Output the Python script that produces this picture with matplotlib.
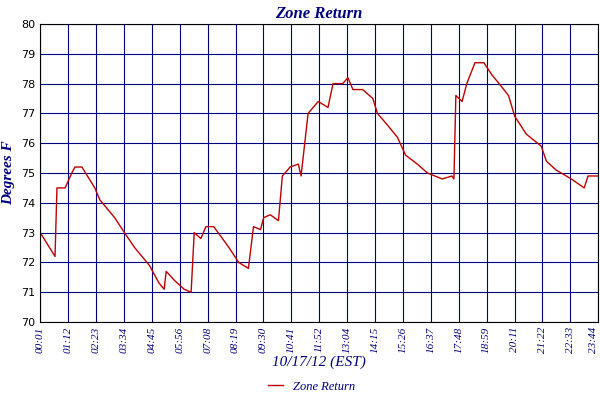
import matplotlib
matplotlib.use("Agg")
import matplotlib.pyplot as plt

minutes = [1,39,44,65,82,90,108,141,154,192,217,243,281,306,319,324,345,370,388,396,413,426,446,485,510,535,548,566,574,591,612,622,642,663,670,688,714,739,752,777,790,803,828,854,866,892,917,938,968,994,1032,1057,1062,1067,1083,1095,1116,1139,1159,1184,1202,1218,1248,1286,1299,1324,1363,1396,1406,1432]
temps = [73.0,72.2,74.5,74.5,75.0,75.2,75.2,74.5,74.1,73.5,73.0,72.5,71.9,71.3,71.1,71.7,71.4,71.1,71.0,73.0,72.8,73.2,73.2,72.5,72.0,71.8,73.2,73.1,73.5,73.6,73.4,74.9,75.2,75.3,74.9,77.0,77.4,77.2,78.0,78.0,78.2,77.8,77.8,77.5,77.0,76.6,76.2,75.6,75.3,75.0,74.8,74.9,74.8,77.6,77.4,78.0,78.7,78.7,78.3,77.9,77.6,76.9,76.3,75.9,75.4,75.1,74.8,74.5,74.9,74.9]
tick_labels = ["00:01","01:12","02:23","03:34","04:45","05:56","07:08","08:19","09:30","10:41","11:52","13:04","14:15","15:26","16:37","17:48","18:59","20:11","21:22","22:33","23:44"]

navy = "#000080"
plt.rcParams['font.family'] = ['Liberation Serif', 'DejaVu Serif']
fig = plt.figure(figsize=(6, 4), dpi=100)
ax = fig.add_axes([0.067, 0.195, 0.93, 0.745])
ax.plot(minutes, temps, color="#c00000", lw=1.0, label="Zone Return")
ax.set_xlim(1, 1432)
ax.set_ylim(70, 80)
step = (1432 - 1) / 20.0
ticks = [1 + i * step for i in range(21)]
ax.set_xticks(ticks)
ax.set_xticklabels(tick_labels, rotation=90, fontsize=8, color=navy, style="italic")
ax.get_xticklabels()[-1].set_horizontalalignment("right")
ax.set_yticks(range(70, 81))
ax.tick_params(axis='y', labelsize=8, length=0, colors='black')
ax.tick_params(axis='x', length=0)
for lab in ax.get_yticklabels():
    lab.set_family(['DejaVu Sans'])
ax.grid(True, color=navy, lw=0.8)
for s in ax.spines.values():
    s.set_color('black')
ax.set_title("Zone Return", fontsize=12, fontweight="bold", style="italic", color=navy, pad=4)
ax.set_ylabel("Degrees F", fontsize=11, fontweight="bold", style="italic", color=navy, labelpad=4)
ax.set_xlabel("10/17/12 (EST)", fontsize=11, style="italic", color=navy, labelpad=2)
leg = fig.legend(loc="lower center", bbox_to_anchor=(0.52, -0.01), frameon=False, fontsize=9, handlelength=1.2)
for t in leg.get_texts():
    t.set_color(navy); t.set_style("italic")
fig.savefig("out.png")
